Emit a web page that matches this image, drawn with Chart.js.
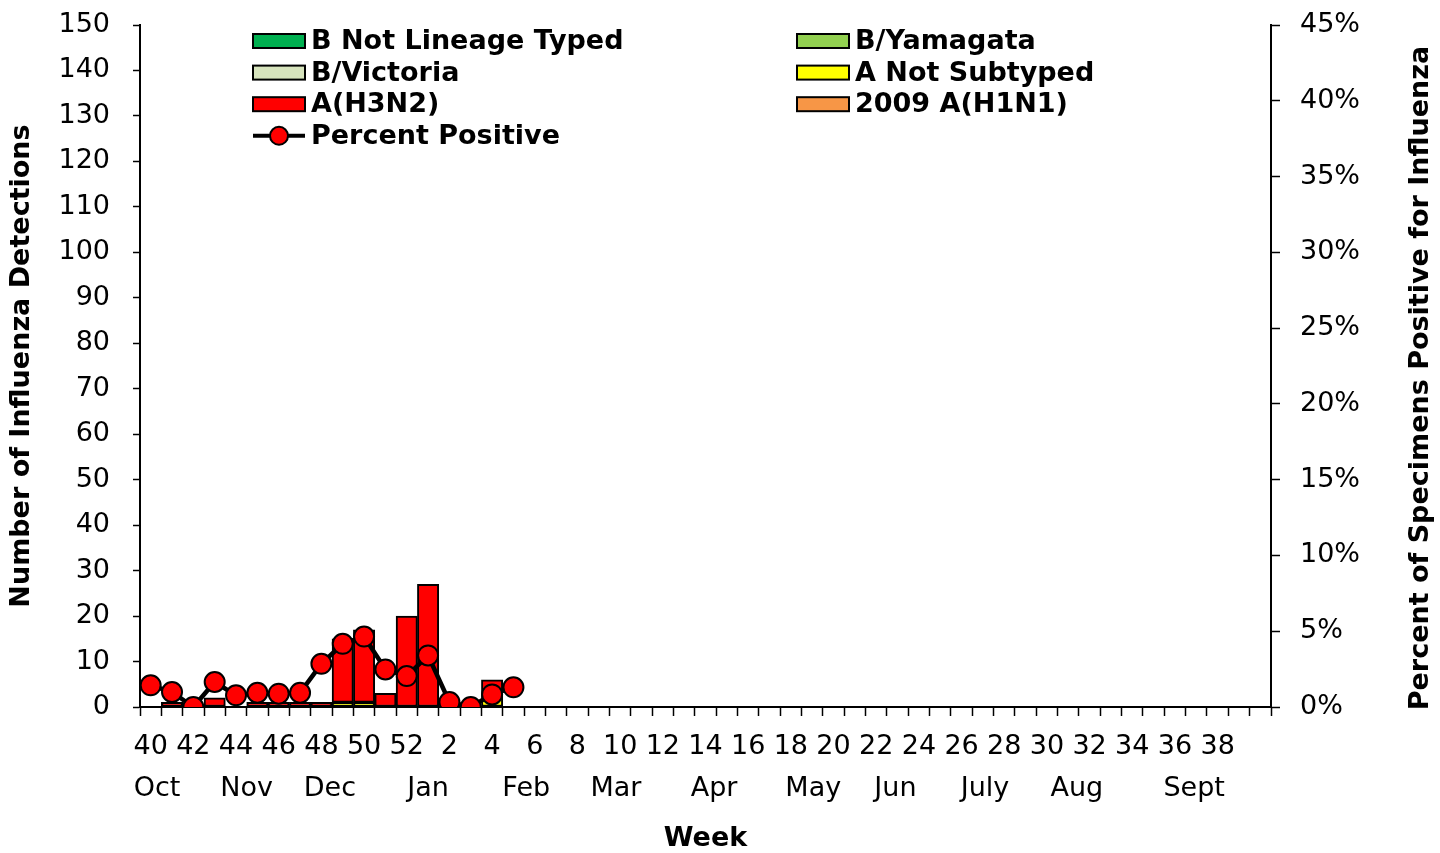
<!DOCTYPE html>
<html>
<head>
<meta charset="utf-8">
<title>Influenza Detections by Week</title>
<script src="https://cdn.jsdelivr.net/npm/chart.js@4.4.1/dist/chart.umd.min.js"></script>
<style>
  html, body { margin: 0; padding: 0; background: #ffffff; }
  #wrap { position: relative; width: 1440px; height: 853px; }
</style>
</head>
<body>
<div id="wrap"><canvas id="fluChart"></canvas></div>
<script>
// ---- data ----
// surveillance weeks (last slot is an empty category on the axis)
const weeks = [40, 41, 42, 43, 44, 45, 46, 47, 48, 49, 50, 51, 52,
    1, 2, 3, 4, 5, 6, 7, 8, 9, 10, 11, 12, 13, 14, 15, 16, 17, 18, 19, 20,
    21, 22, 23, 24, 25, 26, 27, 28, 29, 30, 31, 32, 33, 34, 35, 36, 37, 38, 39, ''];

// month names and where they sit on the week axis (category index)
const monthNames = ['Oct', 'Nov', 'Dec', 'Jan', 'Feb', 'Mar', 'Apr', 'May', 'Jun', 'July', 'Aug', 'Sept'];
const monthPos = [0.3, 4.5, 8.4, 13.0, 17.6, 21.8, 26.4, 31.05, 34.9, 39.1, 43.4, 48.9];

// detections per week (weeks 40 .. 5), null = nothing
const aNotSubtyped = [null, null, null, null, null, null, null, null, null, 1, 1, null, null, null, null, null, 2, null];
const h1n1 = [];
const h3n2 = [null, 1, null, 2, null, 1, 1, 1, 1, 14, 16, 3, 20, 27, null, null, 4, null];
const bVictoria = [];
const bYamagata = [];
const bNotLineage = [];

// percent of specimens positive
const percentPositive = [1.43, 0.99, 0, 1.65, 0.77, 0.94, 0.88, 0.94, 2.85, 4.17, 4.65, 2.48, 2.04, 3.4, 0.33, 0, 0.83, 1.3];

// legend reading order (two columns)
const legendOrder = ['B Not Lineage Typed', 'B/Yamagata', 'B/Victoria', 'A Not Subtyped', 'A(H3N2)', '2009 A(H1N1)', 'Percent Positive'];

const rightTitle = 'Percent of Specimens Positive for Influenza';

Chart.defaults.font.family = "'DejaVu Sans', sans-serif";
Chart.defaults.color = '#000';

function barSet(label, data, color) {
    return {
        type: 'bar',
        label: label,
        data: data,
        backgroundColor: color,
        borderColor: '#000',
        borderWidth: 2,
        borderSkipped: false,
        barPercentage: 1.0,
        categoryPercentage: 1.0,
        yAxisID: 'y',
        order: 1
    };
}

// y axes: fixed width, and no extra top/bottom padding from the tick labels
function fixVertical(width) {
    return function (axis) {
        axis.width = width;
        axis.paddingTop = 0;
        axis.paddingBottom = 0;
    };
}

// two-column legend drawn on the canvas
const gridLegend = {
    id: 'gridLegend',
    afterDraw(chart) {
        const ctx = chart.ctx;
        const colX = [253, 797];
        const rowY0 = 41;
        const rowStep = 31.6;
        ctx.save();
        ctx.font = "bold 27px 'DejaVu Sans', sans-serif";
        ctx.textBaseline = 'middle';
        ctx.textAlign = 'left';
        legendOrder.forEach(function (name, i) {
            const ds = chart.data.datasets.find(function (d) { return d.label === name; });
            if (!ds) {
                return;
            }
            const x = colX[i % 2];
            const y = rowY0 + Math.floor(i / 2) * rowStep;
            if (ds.type === 'line') {
                ctx.strokeStyle = '#000';
                ctx.lineWidth = 4;
                ctx.beginPath();
                ctx.moveTo(x, y);
                ctx.lineTo(x + 52, y);
                ctx.stroke();
                ctx.beginPath();
                ctx.arc(x + 26, y, 9, 0, Math.PI * 2);
                ctx.fillStyle = ds.pointBackgroundColor;
                ctx.fill();
                ctx.lineWidth = 2;
                ctx.stroke();
            } else {
                ctx.fillStyle = ds.backgroundColor;
                ctx.fillRect(x, y - 7, 52, 14);
                ctx.strokeStyle = '#000';
                ctx.lineWidth = 2;
                ctx.strokeRect(x, y - 7, 52, 14);
            }
            ctx.fillStyle = '#000';
            ctx.fillText(name, x + 58, y + 1);
        });
        ctx.restore();
    }
};

// right axis title reads bottom-to-top, like the left one
const rightAxisTitle = {
    id: 'rightAxisTitle',
    afterDraw(chart) {
        const axis = chart.scales.y1;
        const ctx = chart.ctx;
        ctx.save();
        ctx.translate(axis.right - 19, (axis.top + axis.bottom) / 2 + 12);
        ctx.rotate(-Math.PI / 2);
        ctx.font = "bold 27px 'DejaVu Sans', sans-serif";
        ctx.fillStyle = '#000';
        ctx.textAlign = 'center';
        ctx.textBaseline = 'middle';
        ctx.fillText(rightTitle, 0, 0);
        ctx.restore();
    }
};

const ctx = document.getElementById('fluChart').getContext('2d');

new Chart(ctx, {
    data: {
        labels: weeks,
        datasets: [
            {
                type: 'line',
                label: 'Percent Positive',
                data: percentPositive,
                borderColor: '#000',
                borderWidth: 4.5,
                pointRadius: 10,
                pointBackgroundColor: '#FF0000',
                pointBorderColor: '#000',
                pointBorderWidth: 2,
                tension: 0,
                yAxisID: 'y1',
                order: 0
            },
            barSet('A Not Subtyped', aNotSubtyped, '#FFFF00'),
            barSet('2009 A(H1N1)', h1n1, '#F79646'),
            barSet('A(H3N2)', h3n2, '#FF0000'),
            barSet('B/Victoria', bVictoria, '#D7E4BD'),
            barSet('B/Yamagata', bYamagata, '#92D050'),
            barSet('B Not Lineage Typed', bNotLineage, '#00B050')
        ]
    },
    options: {
        responsive: true,
        maintainAspectRatio: false,
        animation: false,
        layout: { padding: { top: 25, left: 0, right: 0, bottom: 0 } },
        plugins: {
            legend: { display: false },
            tooltip: { enabled: false }
        },
        scales: {
            x: {
                type: 'category',
                position: 'bottom',
                stacked: true,
                offset: true,
                grid: {
                    offset: true,
                    drawOnChartArea: false,
                    tickLength: 9,
                    tickColor: '#000',
                    tickWidth: 1.5
                },
                border: { color: '#000', width: 2 },
                ticks: {
                    autoSkip: false,
                    maxRotation: 0,
                    padding: 15,
                    font: { size: 27 },
                    callback: function (value, index) {
                        return index % 2 === 0 ? weeks[index] : '';
                    }
                },
                afterFit: function (axis) { axis.height = 61; }
            },
            xMonth: {
                type: 'linear',
                position: 'bottom',
                min: -0.5,
                max: weeks.length - 0.5,
                grid: { display: false, drawTicks: false },
                border: { display: false },
                ticks: {
                    padding: 5,
                    font: { size: 27 },
                    callback: function (value) {
                        const i = monthPos.indexOf(value);
                        return i >= 0 ? monthNames[i] : '';
                    }
                },
                afterBuildTicks: function (axis) {
                    axis.ticks = monthPos.map(function (v) { return { value: v }; });
                },
                title: {
                    display: true,
                    text: 'Week',
                    font: { size: 27, weight: 'bold' },
                    padding: { top: 0, bottom: -2 }
                },
                afterFit: function (axis) { axis.height = 85; }
            },
            y: {
                position: 'left',
                stacked: true,
                min: 0,
                max: 150,
                grid: {
                    drawOnChartArea: false,
                    tickLength: 7,
                    tickColor: '#000',
                    tickWidth: 1.5
                },
                border: { color: '#000', width: 2 },
                ticks: {
                    stepSize: 10,
                    padding: 23,
                    font: { size: 27 }
                },
                title: {
                    display: true,
                    text: 'Number of Influenza Detections',
                    font: { size: 27, weight: 'bold' },
                    padding: { top: 6, bottom: 0 }
                },
                afterFit: fixVertical(140)
            },
            y1: {
                position: 'right',
                min: 0,
                max: 45,
                grid: {
                    drawOnChartArea: false,
                    tickLength: 9,
                    tickColor: '#000',
                    tickWidth: 1.5
                },
                border: { color: '#000', width: 2 },
                ticks: {
                    stepSize: 5,
                    padding: 20,
                    font: { size: 27 },
                    callback: function (value) { return value + '%'; }
                },
                title: { display: false },
                afterFit: fixVertical(169)
            }
        }
    },
    plugins: [gridLegend, rightAxisTitle]
});
</script>
</body>
</html>
